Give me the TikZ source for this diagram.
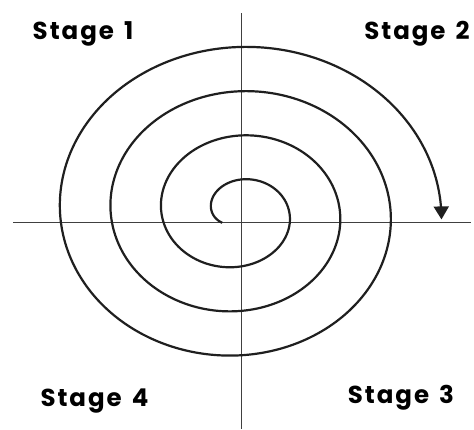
\documentclass[tikz,border=0pt]{standalone}
\usepackage{fontspec}
\newfontfamily\stagefont[LetterSpace=8]{Poppins}
\usetikzlibrary{arrows.meta}
\tikzset{
  axisline/.style={draw=black!75, line width=1.6pt},
  spiralline/.style={draw=black!88, line width=2.2pt},
  stagelabel/.style={font=\stagefont\fontsize{24.5}{28}\selectfont\bfseries, anchor=base, inner sep=0pt, text=black}
}
\begin{document}
\begin{tikzpicture}[x=1pt,y=-1pt]
\useasboundingbox (0,0) rectangle (474,429);
\fill[white] (0,0) rectangle (474,429);
% axes
\coordinate (hl) at (13,222.5);
\coordinate (hr) at (471,222.5);
\coordinate (vt) at (241.5,13);
\coordinate (vb) at (241.5,429);
\draw[axisline] (hl) -- (hr);
\draw[axisline] (vt) -- (vb);
% spiral
\draw[spiralline, -{Triangle[width=15pt,length=13pt]}]
  plot[domain=-0.11:3.509, samples=400, smooth, variable=\t]
  ({238 + (26+50.67*\t)*cos(180-360*\t)}, {212.3 - (21.3+44.3*\t)*sin(180-360*\t)});
% labels
\node[stagelabel] (s1) at (83,39) {Stage\hspace{0.12em} 1};
\node[stagelabel] (s2) at (417,39) {Stage\hspace{0.12em} 2};
\node[stagelabel] (s3) at (401,403) {Stage\hspace{0.12em} 3};
\node[stagelabel] (s4) at (94.5,406.5) {Stage\hspace{0.12em} 4};
\end{tikzpicture}
\end{document}
